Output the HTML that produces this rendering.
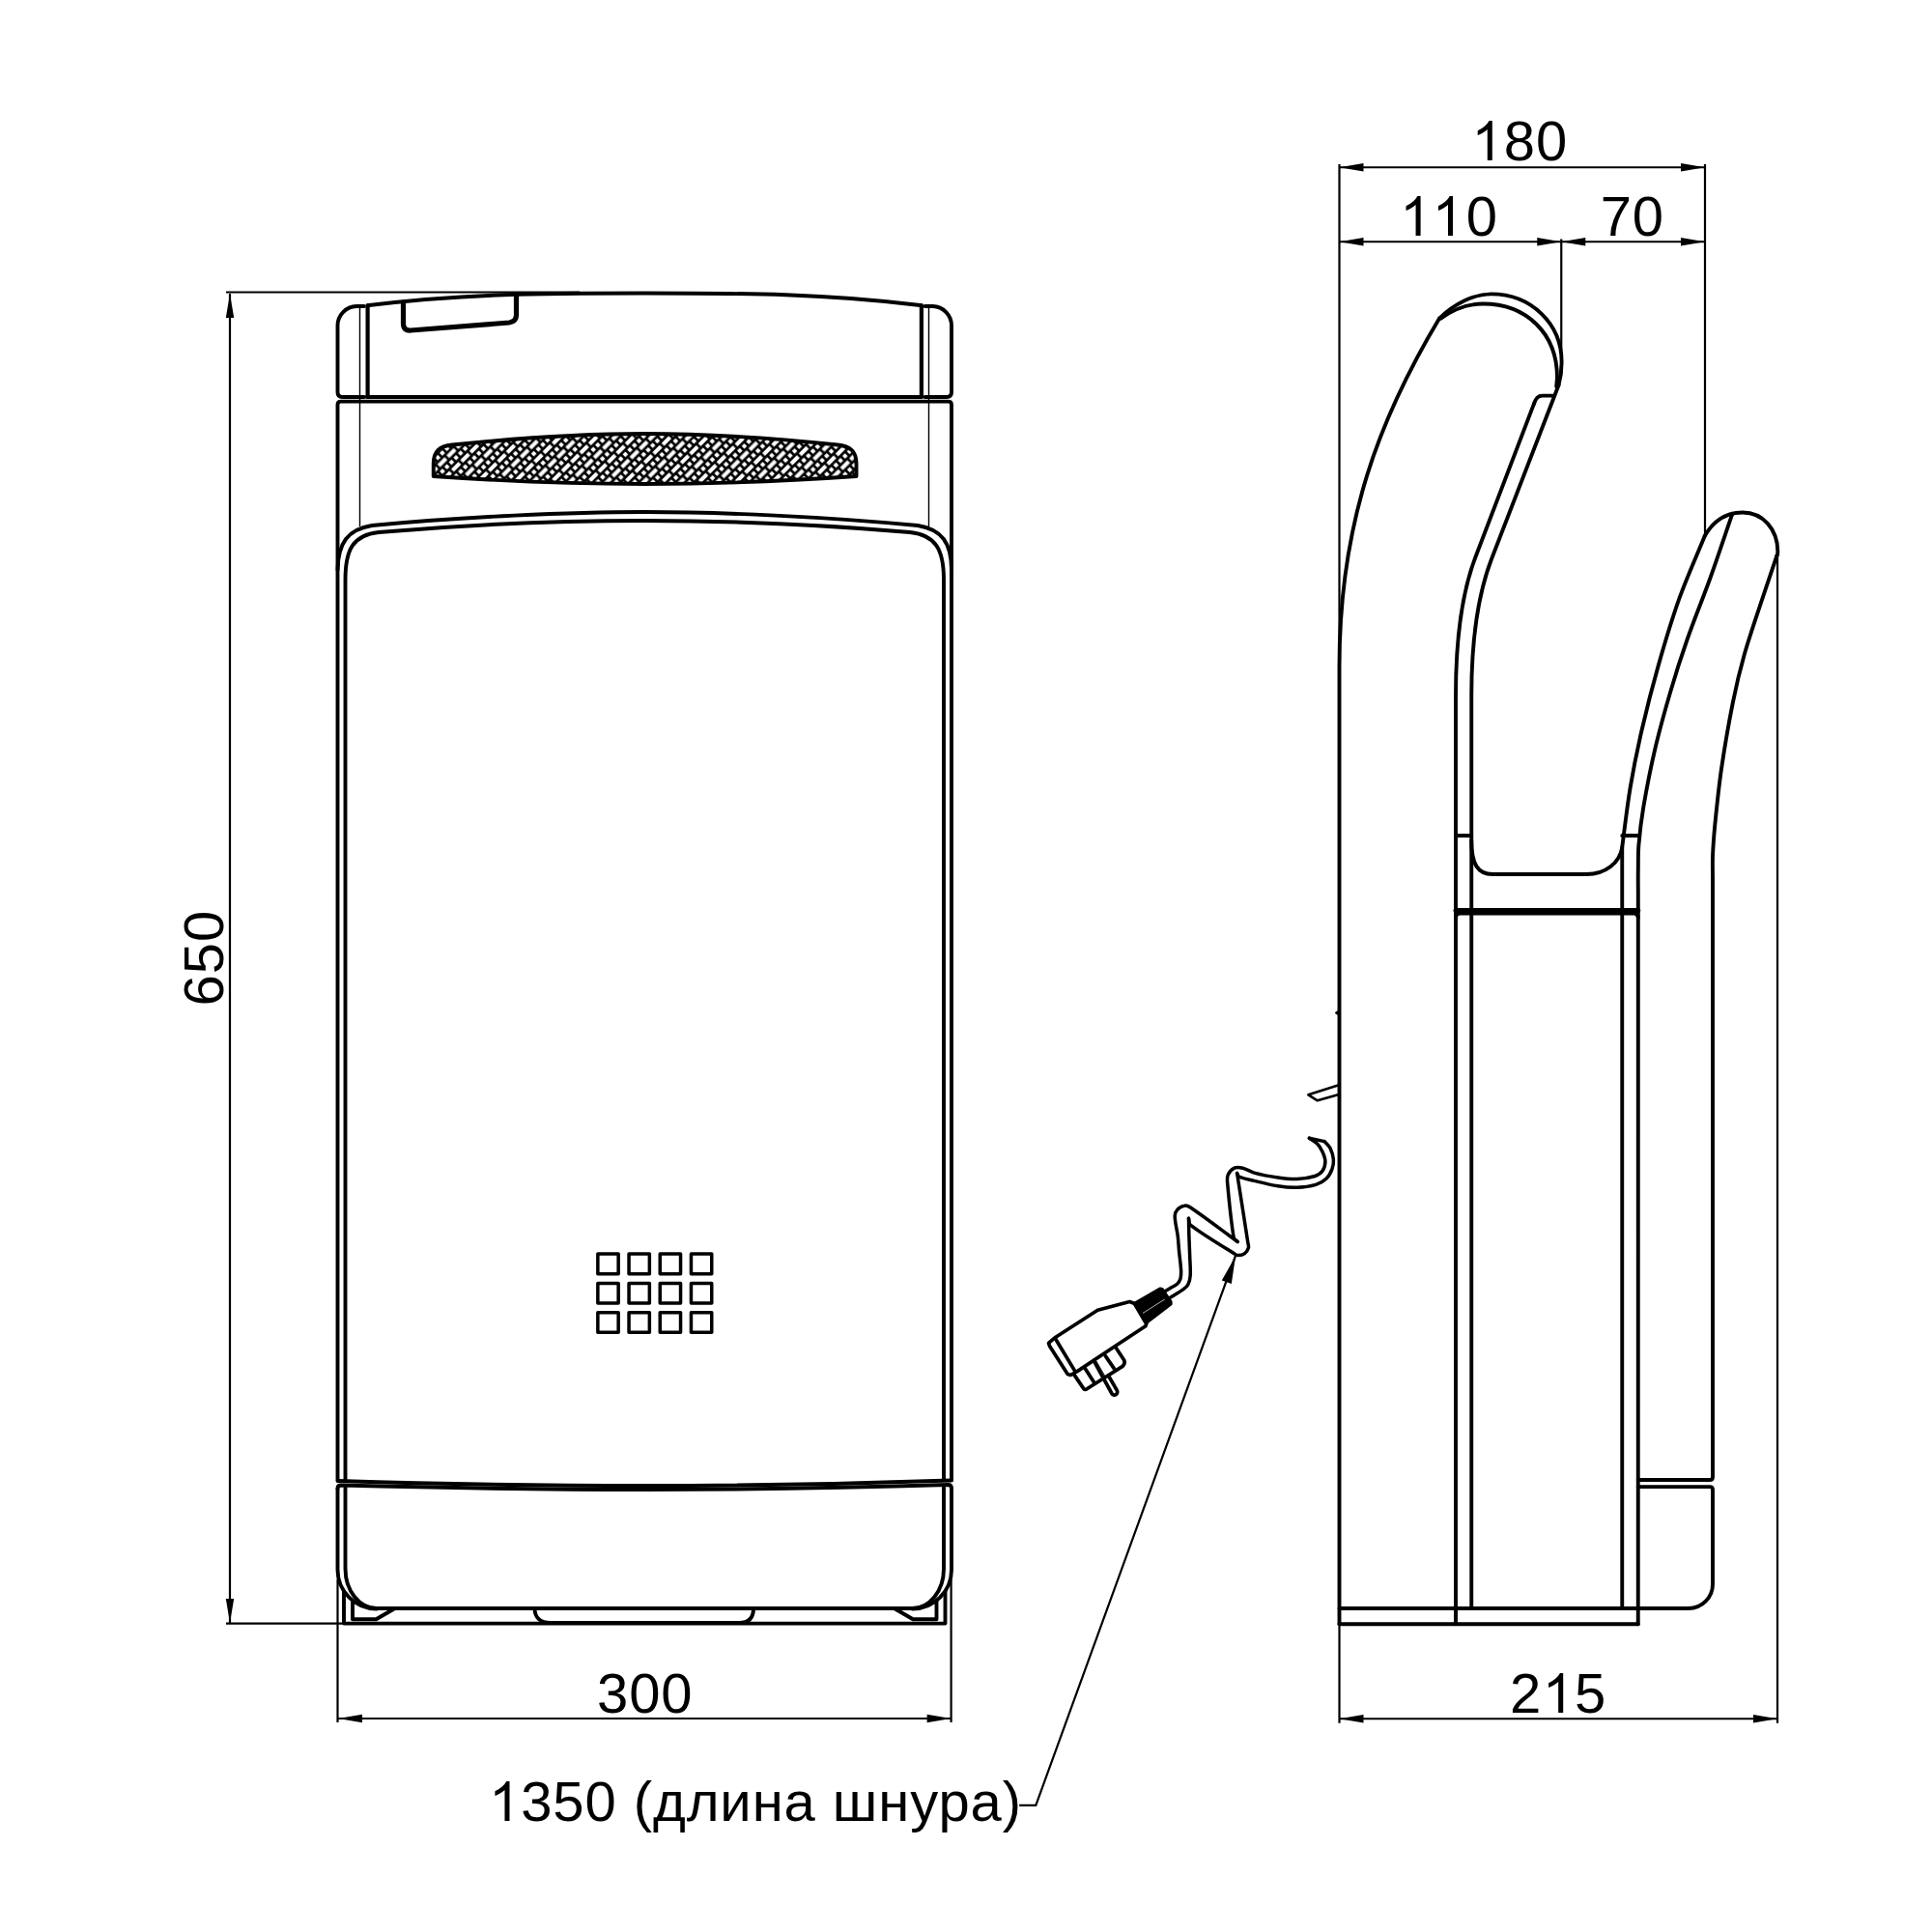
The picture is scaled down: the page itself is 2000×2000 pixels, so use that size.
<!DOCTYPE html>
<html><head><meta charset="utf-8"><style>
html,body{margin:0;padding:0;background:#fff;}
svg{display:block;}
text{font-family:"Liberation Sans",sans-serif;fill:#000;}
</style></head><body>
<svg width="2000" height="2000" viewBox="0 0 2000 2000">
<defs>
<path id="one" d="M763 0H583V1147Q518 1085 412.5 1023T223 930V1104Q374 1175 487 1276T647 1472H763V0Z"/>
<pattern id="mesh" patternUnits="userSpaceOnUse" width="13.3" height="27" patternTransform="translate(600,470) rotate(-45)">
<rect x="0" y="0" width="13.3" height="27" fill="#000"/>
<rect x="1.35" y="-2.05" width="10.60" height="4.10" fill="#fff"/>
<rect x="1.35" y="24.95" width="10.60" height="4.10" fill="#fff"/>
<rect x="-5.30" y="11.45" width="10.60" height="4.10" fill="#fff"/>
<rect x="8.00" y="11.45" width="10.60" height="4.10" fill="#fff"/>
<rect x="-2.00" y="4.75" width="4.00" height="4.00" fill="#fff"/>
<rect x="4.65" y="4.75" width="4.00" height="4.00" fill="#fff"/>
<rect x="11.30" y="4.75" width="4.00" height="4.00" fill="#fff"/>
<rect x="-2.00" y="18.25" width="4.00" height="4.00" fill="#fff"/>
<rect x="4.65" y="18.25" width="4.00" height="4.00" fill="#fff"/>
<rect x="11.30" y="18.25" width="4.00" height="4.00" fill="#fff"/>
</pattern>
</defs>
<rect width="2000" height="2000" fill="#fff"/>

<!-- ============ FRONT VIEW ============ -->
<g fill="none" stroke="#000" stroke-width="3.9" stroke-linejoin="round" stroke-linecap="round">
  <!-- cap left piece -->
  <path d="M377,317 L369,317 A20,20 0 0 0 349.5,337 L349.5,406 Q349.5,411 354.5,411 L377,411"/>
  <!-- cap right piece -->
  <path d="M957.5,317 L965.5,317 A20,20 0 0 1 985,337 L985,406 Q985,411 980,411 L957.5,411"/>
  <!-- thick separators -->
  <line x1="380.6" y1="316" x2="380.6" y2="411" stroke-width="4.2"/>
  <line x1="953.9" y1="316" x2="953.9" y2="411" stroke-width="4.2"/>
  <!-- lid top -->
  <path d="M382,316 C480,304 560,303.5 667,303.5 C775,303.5 855,304 952.5,316"/>
  <!-- tab -->
  <path d="M417.5,313 L417.5,335 Q417.5,342.5 425,342 L527,334 Q534.5,333 534.5,326 L534.5,305.5" stroke-width="5.2"/>
  <!-- cap bottom line -->
  <line x1="380" y1="411" x2="954" y2="411"/>
  <!-- body top + sides -->
  <path d="M349.5,1532 L349.5,419 Q349.5,415.6 353,415.6 L981.5,415.6 Q985,415.6 985,419 L985,1532"/>
  <!-- grille -->
  <path d="M448.75,493 L448.75,480 C448.75,467 455,462 468,460.5 C560,451 620,449 667,449 C715,449 775,451 867,460.5 C880,462 886.5,467 886.5,480 L886.5,493 C800,499 720,501 667,501 C615,501 535,499 448.75,493 Z" fill="url(#mesh)"/>
  <!-- panel outer -->
  <path d="M349.5,590 C350,562 360,548 385,544 C480,535 590,530 667,530 C745,530 855,535 950,544 C975,548 985,562 985,590"/>
  <!-- panel inner -->
  <path d="M357.5,1532 L357.5,600 C357.5,568 366,554 392,551 C485,543 590,539 667,539 C745,539 850,543 942,551 C968,554 977,568 977,600 L977,1532"/>
  <!-- panel bottom line -->
  <path d="M349.5,1533 C450,1536 580,1538 667,1538 C755,1538 885,1536 985,1532.5"/>
  <!-- lower section top -->
  <path d="M349.5,1541 Q349.5,1537.5 353,1537.5 C450,1540 580,1542 667,1542 C755,1542 885,1540 981.5,1537 Q985,1537 985,1541"/>
  <!-- lower section sides -->
  <path d="M349.5,1541 L349.5,1625 A40.5,40.5 0 0 0 390,1665.5"/>
  <path d="M985,1541 L985,1625 A40.5,40.5 0 0 1 944.5,1665.5"/>
  <path d="M357.5,1540 L357.5,1624 A32.5,41 0 0 0 390,1665"/>
  <path d="M977,1540 L977,1624 A32.5,41 0 0 1 944.5,1665"/>
  <line x1="390" y1="1665" x2="944.5" y2="1665"/>
  <!-- tray -->
  <path d="M356,1647.5 L356,1680.6 L978.5,1680.6 L978.5,1647.5"/>
  <path d="M365,1657.5 L365,1676.25 L389.4,1676.25 L408.75,1665"/>
  <path d="M969.5,1657.5 L969.5,1676.25 L945.1,1676.25 L925.75,1665"/>
  <!-- bump -->
  <path d="M553.5,1665 C553.5,1675 560,1680 570,1680 L765,1680 C775,1680 780,1675 780,1665"/>
  <!-- squares -->
  <g stroke-width="3.5">
    <rect x="618.85" y="1298.05" width="21.3" height="20.6"/>
    <rect x="651.05" y="1298.05" width="21.3" height="20.6"/>
    <rect x="683.25" y="1298.05" width="21.3" height="20.6"/>
    <rect x="715.45" y="1298.05" width="21.3" height="20.6"/>
    <rect x="618.85" y="1328.4" width="21.3" height="20.6"/>
    <rect x="651.05" y="1328.4" width="21.3" height="20.6"/>
    <rect x="683.25" y="1328.4" width="21.3" height="20.6"/>
    <rect x="715.45" y="1328.4" width="21.3" height="20.6"/>
    <rect x="618.85" y="1358.75" width="21.3" height="20.6"/>
    <rect x="651.05" y="1358.75" width="21.3" height="20.6"/>
    <rect x="683.25" y="1358.75" width="21.3" height="20.6"/>
    <rect x="715.45" y="1358.75" width="21.3" height="20.6"/>
  </g>
</g>
<!-- thin lines front -->
<g fill="none" stroke="#000" stroke-width="1.4">
  <line x1="372.5" y1="317" x2="372.5" y2="545"/>
  <line x1="961.5" y1="317" x2="961.5" y2="545"/>
</g>

<!-- dimension lines front -->
<g fill="none" stroke="#000" stroke-width="2.2">
  <line x1="234" y1="302.5" x2="600" y2="302.5"/>
  <line x1="234" y1="1680.6" x2="356" y2="1680.6"/>
  <line x1="238" y1="304" x2="238" y2="1680"/>
  <line x1="349.5" y1="1635" x2="349.5" y2="1783"/>
  <line x1="984.6" y1="1635" x2="984.6" y2="1783"/>
  <line x1="350" y1="1779" x2="984" y2="1779"/>
</g>
<g fill="#000" stroke="none">
  <path d="M238,304 L233.8,329 L242.2,329 Z"/>
  <path d="M238,1680 L233.8,1655 L242.2,1655 Z"/>
  <path d="M350,1779 L375,1774.8 L375,1783.2 Z"/>
  <path d="M984.6,1779 L959.6,1774.8 L959.6,1783.2 Z"/>
</g>

<!-- ============ SIDE VIEW ============ -->
<g fill="none" stroke="#000" stroke-width="3.9" stroke-linejoin="round" stroke-linecap="round">
  <!-- upper nozzle outer arc -->
  <path d="M1490.1,329.6 C1505,315 1525,304.5 1543.7,304.4 C1585,304.5 1617,335 1616.6,375.4 C1616.5,385 1615,393 1613.5,398.7"/>
  <!-- upper nozzle inner arc -->
  <path d="M1491.6,329.6 C1505,320 1520,314.5 1535.1,314.5 C1580,314.5 1612,345 1612,391 L1611.2,400.2"/>
  <!-- body outer left curve -->
  <path d="M1490.1,329.6 C1428.4,432.4 1386.5,540 1386.5,690 L1386.5,1681.25"/>
  <!-- slot end -->
  <path d="M1607.3,409.6 L1596.5,409.6 C1593,409.6 1590,411 1587.9,418.1"/>
  <!-- slot line A -->
  <path d="M1587.9,418.1 L1527.3,577 C1512.3,616.2 1507,665 1507,720 L1507,1681.25"/>
  <!-- slot line B -->
  <path d="M1613.5,398.7 L1544,578.8 C1529,618 1523.25,665 1523.25,720 L1523.25,1665"/>
  <!-- U bottom + right side -->
  <path d="M1523.25,870 C1523.25,895 1530,905 1545,905 L1642.5,905 C1662,905 1677,893 1679.25,877 C1682.0,856.5 1684.2,836.0 1687.6,815.6 C1690.9,795.8 1694.9,776.1 1699.4,756.5 C1704.7,733.4 1710.6,710.4 1717.1,687.6 C1723.7,664.5 1730.6,641.4 1738.7,618.7 C1746.5,597.0 1756.1,576.0 1764.8,554.7"/>
  <line x1="1679.25" y1="877" x2="1679.25" y2="1665"/>
  <!-- line C -->
  <path d="M1793.4,531.7 C1785.7,554.1 1778.2,576.7 1770.2,599.0 C1762.6,620.1 1754.0,640.8 1746.6,662.0 C1740.2,680.2 1734.3,698.7 1728.9,717.2 C1723.2,736.7 1717.7,756.4 1713.1,776.2 C1708.5,795.8 1704.7,815.5 1701.3,835.3 C1699.1,848.3 1697.5,861.4 1696.4,874.6 C1695.7,883.0 1695.9,891.5 1695.8,900.0 C1695.6,908.3 1695.8,916.7 1695.8,925.0 L1695.75,1681.25"/>
  <!-- lower nozzle arc -->
  <path d="M1764.8,554.7 C1775,537 1790,530.5 1804,530.5 C1825,530.5 1840.3,548 1840.3,570.9 C1840.3,573 1840,575 1839.4,575.2"/>
  <!-- lower nozzle outer right -->
  <path d="M1839.4,575.2 C1834.1,591.0 1828.6,606.8 1823.4,622.7 C1817.4,641.0 1811.0,659.2 1805.7,677.8 C1801.1,694.0 1797.2,710.5 1793.9,727.0 C1789.3,749.9 1785.4,772.8 1782.0,795.9 C1779.1,815.5 1777.2,835.3 1775.2,855.0 C1774.2,865.5 1773.4,876.0 1773.0,886.5 C1772.7,894.3 1773.0,902.2 1773.0,910.0 C1773.0,918.3 1773.0,926.7 1773.0,935.0 L1773,1528.9 Q1773,1532 1770,1532 L1695.75,1532"/>
  <path d="M1695.75,1539.1 L1770,1539.1 Q1773,1539.1 1773,1542.2 L1773,1640 A25,25 0 0 1 1748,1665 L1695.75,1665"/>
  <!-- ticks -->
  <line x1="1507" y1="865" x2="1523.25" y2="865"/>
  <line x1="1679.25" y1="865" x2="1695.75" y2="865"/>
  <!-- mid horizontal -->
  <line x1="1507" y1="942.5" x2="1695.75" y2="942.5" stroke-width="5"/>
  <path d="M1507,950 Q1507,945.5 1511,945.5 L1691.75,945.5 Q1695.75,945.5 1695.75,950"/>
  <!-- bottom horizontals -->
  <line x1="1386.5" y1="1665" x2="1695.75" y2="1665"/>
  <line x1="1386.5" y1="1681.25" x2="1695.75" y2="1681.25"/>
  <!-- nub -->
  <path d="M1386.5,1046.5 L1383.3,1048.6 L1386.5,1050.6" stroke-width="2.4"/>
  <!-- cord strip -->
  <path d="M1385.1,1123.6 L1354.4,1133.3 L1363.8,1139.3 L1385.1,1133.3" stroke-width="2.6"/>
</g>

<!-- dimension lines side -->
<g fill="none" stroke="#000" stroke-width="2.2">
  <line x1="1386.5" y1="170" x2="1386.5" y2="700"/>
  <line x1="1765" y1="170" x2="1765" y2="554"/>
  <line x1="1616.25" y1="247.5" x2="1616.25" y2="387.5"/>
  <line x1="1386.5" y1="173.25" x2="1765" y2="173.25"/>
  <line x1="1386.5" y1="250.25" x2="1765" y2="250.25"/>
  <line x1="1386.5" y1="1681" x2="1386.5" y2="1783.75"/>
  <line x1="1840" y1="575" x2="1840" y2="1783.75"/>
  <line x1="1386.5" y1="1779.25" x2="1840" y2="1779.25"/>
</g>
<g fill="#000" stroke="none">
  <path d="M1386.5,173.25 L1411.5,169 L1411.5,177.5 Z"/>
  <path d="M1765,173.25 L1740,169 L1740,177.5 Z"/>
  <path d="M1386.5,250.25 L1411.5,246 L1411.5,254.5 Z"/>
  <path d="M1616.25,250.25 L1591.25,246 L1591.25,254.5 Z"/>
  <path d="M1616.25,250.25 L1641.25,246 L1641.25,254.5 Z"/>
  <path d="M1765,250.25 L1740,246 L1740,254.5 Z"/>
  <path d="M1386.5,1779.25 L1411.5,1775 L1411.5,1783.5 Z"/>
  <path d="M1840,1779.25 L1815,1775 L1815,1783.5 Z"/>
</g>

<!-- ============ CORD ============ -->
<g fill="none" stroke="#000" stroke-width="3.5" stroke-linejoin="round" stroke-linecap="round">
  <path d="M1355.4,1178.2 C1358.0,1180.0 1361.0,1181.3 1363.2,1183.6 C1365.7,1186.1 1367.6,1189.2 1369.1,1192.4 C1370.5,1195.5 1371.9,1198.9 1371.9,1202.3 C1371.9,1205.7 1371.0,1209.3 1369.1,1212.1 C1367.3,1214.7 1364.3,1216.5 1361.3,1217.5 C1355.3,1219.4 1348.9,1220.3 1342.6,1220.5 C1336.0,1220.8 1329.4,1219.9 1322.9,1219.0 C1314.6,1217.8 1306.4,1216.3 1298.3,1214.1 C1294.2,1213.0 1290.6,1210.2 1286.5,1209.2 C1283.6,1208.5 1280.4,1208.0 1277.7,1209.2 C1274.9,1210.5 1272.7,1213.2 1271.3,1216.0 C1270.2,1218.4 1270.4,1221.3 1270.6,1223.9 C1272.3,1243.1 1274.0,1262.4 1277.2,1281.4 C1277.5,1283.2 1279.8,1284.1 1281.1,1285.4"/>
  <path d="M1281.1,1285.4 C1264.9,1273.6 1249.0,1261.3 1232.4,1250.0 C1230.7,1248.8 1228.5,1247.6 1226.5,1248.0 C1223.6,1248.5 1220.7,1250.2 1218.7,1252.4 C1217.1,1254.2 1216.1,1256.9 1216.2,1259.3 C1216.4,1266.3 1218.5,1273.1 1219.3,1280.0 C1219.9,1285.1 1220.1,1290.3 1220.6,1295.5 C1221.2,1302.1 1222.3,1308.6 1222.6,1315.2 C1222.7,1318.1 1222.7,1321.2 1221.9,1324.0 C1221.3,1326.0 1220.0,1327.8 1218.5,1329.2 C1216.6,1331.0 1214.1,1332.0 1211.8,1333.3 C1209.4,1334.7 1206.9,1336.1 1204.5,1337.5"/>
  <path d="M1371.1,1181.6 C1373.1,1183.9 1375.7,1185.8 1377.0,1188.5 C1378.8,1192.2 1380.0,1196.2 1380.4,1200.3 C1380.7,1203.6 1380.1,1207.0 1379.0,1210.1 C1377.7,1213.7 1375.9,1217.3 1373.1,1220.0 C1370.1,1222.9 1366.2,1225.2 1362.2,1226.4 C1355.9,1228.3 1349.2,1229.1 1342.6,1229.3 C1336.0,1229.5 1329.4,1228.8 1322.9,1227.8 C1314.6,1226.5 1306.5,1224.4 1298.3,1222.4 C1293.0,1221.1 1287.6,1220.2 1282.6,1218.0 C1281.4,1217.5 1281.3,1215.7 1280.6,1214.6"/>
  <path d="M1280.6,1214.6 C1284.4,1238.7 1288.2,1262.7 1291.9,1286.8 C1292.2,1288.5 1292.9,1290.2 1292.4,1291.8 C1291.7,1294.1 1290.4,1296.3 1288.5,1297.7 C1286.6,1299.1 1284.0,1299.6 1281.6,1299.6 C1280.2,1299.6 1278.9,1298.5 1277.7,1297.7 C1262.5,1288.0 1246.7,1279.2 1232.4,1268.2 C1230.5,1266.7 1231.1,1263.6 1230.5,1261.3"/>
  <path d="M1230.5,1261.3 C1230.6,1267.5 1230.7,1273.8 1230.9,1280.0 C1231.1,1286.9 1231.5,1293.8 1231.7,1300.7 C1231.9,1307.3 1232.6,1313.8 1232.2,1320.4 C1232.0,1323.6 1231.4,1326.9 1229.9,1329.7 C1228.8,1331.9 1226.7,1333.5 1224.7,1334.9 C1219.9,1338.3 1214.7,1341.1 1209.7,1344.2"/>
  <line x1="1355.4" y1="1178.2" x2="1371.1" y2="1181.6"/>
</g>
<!-- plug -->
<g fill="none" stroke="#000" stroke-width="3.7" stroke-linejoin="round" stroke-linecap="round">
  <path d="M1085.5,1390.4 L1092.8,1384.2 L1136.3,1356.3 L1169.4,1347.5 L1174.6,1349.5 L1187,1369.7 L1185.9,1372.8 L1155.9,1392.5 L1115.5,1419.4 L1108.3,1423.5 L1105.2,1422.5 L1086.6,1393.5 Z" fill="#fff"/>
  <line x1="1092.8" y1="1386.3" x2="1112.8" y2="1419.4"/>
  <path d="M1112,1423.1 L1121.5,1437.1 Q1123.2,1439.5 1125.2,1437.8 L1162.1,1414.4 Q1165,1411.5 1163.8,1408.2 L1155.1,1394.9"/>
  <line x1="1123.2" y1="1416.4" x2="1132.7" y2="1431.3"/>
  <line x1="1144.3" y1="1403.6" x2="1153.4" y2="1416.9"/>
  <path d="M1132.3,1408.5 L1150.9,1442.5 A3.1,3.1 0 0 0 1156.3,1439.4 L1147.4,1424"/>
  <line x1="1134.8" y1="1409" x2="1143.5" y2="1424" stroke-width="1"/>
  <path d="M1174.6,1349.5 L1200.9,1334.3 L1203,1334.9 L1211.8,1347.8 L1211.8,1349.9 L1188,1368 L1185.9,1369 Z" fill="#000"/>
  <line x1="1183.3" y1="1359.2" x2="1205.5" y2="1345.2" stroke="#fff" stroke-width="0.7"/>
</g>
<!-- leader -->
<g fill="none" stroke="#000" stroke-width="2.2">
  <path d="M1055.2,1868.8 L1072.3,1868.8 L1279,1300"/>
</g>
<path d="M1279,1300.5 L1264.8,1325.5 L1274.8,1328.9 Z" fill="#000"/>

<!-- ============ TEXT ============ -->
<g style="font-size:58px;letter-spacing:0.9px">
<text x="1556.8" y="166">80</text>
<text x="1517.7" y="244">0</text>
<text x="1656.7" y="244">70</text>
<text x="1563" y="1773">2</text>
<text x="1630" y="1773">5</text>
<text x="618" y="1773">300</text>
<text x="539.2" y="1885">350 (длина шнура)</text>
<text transform="translate(231,1041.4) rotate(-90)" x="0" y="0">650</text>
</g>
<g fill="#000">
<use href="#one" transform="translate(1523.5,166) scale(0.0279,-0.0279)"/>
<use href="#one" transform="translate(1449.3,244) scale(0.0279,-0.0279)"/>
<use href="#one" transform="translate(1482.7,244) scale(0.0279,-0.0279)"/>
<use href="#one" transform="translate(1596.9,1773) scale(0.0279,-0.0279)"/>
<use href="#one" transform="translate(506.2,1885) scale(0.0279,-0.0279)"/>
</g>
</svg>
</body></html>
